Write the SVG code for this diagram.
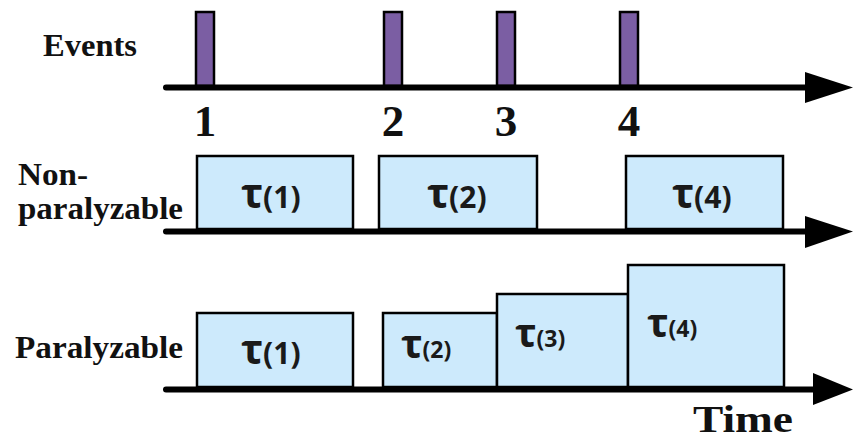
<svg xmlns="http://www.w3.org/2000/svg" width="856" height="443" viewBox="0 0 856 443">
  <style>
    .lbl { font-family: "Liberation Serif", "Times New Roman", Tinos, Times, serif; font-weight: 700; fill: #111; }
    .num { font-family: "Liberation Serif", "Times New Roman", Tinos, Times, serif; font-weight: 700; font-size: 45px; fill: #111; text-anchor: middle; }
    .axis { stroke: #000; stroke-width: 6; stroke-linecap: round; fill: none; }
    .head { fill: #000; }
    .event { fill: #7b5ea3; stroke: #000; stroke-width: 2.5; }
    .dead { fill: #cdeafc; stroke: #000; stroke-width: 2.5; }
    .tau { font-family: "Open Sans", "Noto Sans", sans-serif; font-weight: 700; fill: #1a1a1a; }
  </style>

  <!-- row labels -->
  <g id="labels">
    <text class="lbl" x="43" y="56" font-size="32" textLength="94" lengthAdjust="spacingAndGlyphs">Events</text>
    <text class="lbl" x="18" y="185" font-size="32" textLength="70" lengthAdjust="spacingAndGlyphs">Non-</text>
    <text class="lbl" x="18" y="219" font-size="32" textLength="165" lengthAdjust="spacingAndGlyphs">paralyzable</text>
    <text class="lbl" x="15" y="358" font-size="32" textLength="168" lengthAdjust="spacingAndGlyphs">Paralyzable</text>
    <text class="lbl" x="693" y="432" font-size="37" textLength="100" lengthAdjust="spacingAndGlyphs">Time</text>
  </g>

  <!-- event markers -->
  <g id="events">
    <rect class="event" x="196" y="12" width="18" height="74"/>
    <rect class="event" x="384" y="12" width="18" height="74"/>
    <rect class="event" x="497" y="12" width="18" height="74"/>
    <rect class="event" x="620" y="12" width="18" height="74"/>
    <text class="num" x="205" y="136">1</text>
    <text class="num" x="393" y="136">2</text>
    <text class="num" x="506" y="136">3</text>
    <text class="num" x="629" y="136">4</text>
  </g>

  <!-- non-paralyzable dead times -->
  <g id="nonparalyzable">
    <rect class="dead" x="197" y="156" width="156" height="73"/>
    <rect class="dead" x="379" y="156" width="158" height="73"/>
    <rect class="dead" x="626" y="156" width="157" height="73"/>
    <text class="tau" x="241" y="208"><tspan font-size="41">τ</tspan><tspan font-size="30">(1)</tspan></text>
    <text class="tau" x="427" y="208"><tspan font-size="41">τ</tspan><tspan font-size="30">(2)</tspan></text>
    <text class="tau" x="672" y="208"><tspan font-size="41">τ</tspan><tspan font-size="30">(4)</tspan></text>
  </g>

  <!-- paralyzable dead times -->
  <g id="paralyzable">
    <rect class="dead" x="197" y="313" width="156" height="74"/>
    <rect class="dead" x="383" y="313" width="114" height="74"/>
    <rect class="dead" x="497" y="294" width="131" height="93"/>
    <rect class="dead" x="628" y="265" width="156" height="122"/>
    <text class="tau" x="241" y="364"><tspan font-size="41">τ</tspan><tspan font-size="30">(1)</tspan></text>
    <text class="tau" x="401" y="358"><tspan font-size="40">τ</tspan><tspan font-size="23">(2)</tspan></text>
    <text class="tau" x="515" y="347"><tspan font-size="40">τ</tspan><tspan font-size="23">(3)</tspan></text>
    <text class="tau" x="647" y="337"><tspan font-size="40">τ</tspan><tspan font-size="23">(4)</tspan></text>
  </g>

  <!-- time axes -->
  <g id="connectors">
    <line class="axis" x1="166" y1="87.5" x2="810" y2="87.5"/>
    <polygon class="head" points="805,72 853,87.5 805,103"/>
    <line class="axis" x1="166" y1="231.5" x2="810" y2="231.5"/>
    <polygon class="head" points="805,216 853,231.5 805,248"/>
    <line class="axis" x1="166" y1="389.5" x2="816" y2="389.5"/>
    <polygon class="head" points="813,373 853,389.5 813,405"/>
  </g>
</svg>
